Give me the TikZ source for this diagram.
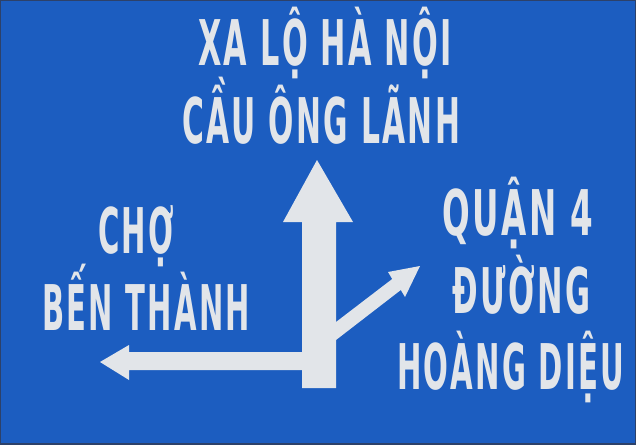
\documentclass[tikz,border=0pt]{standalone}
\usepackage{fontspec}
\usepackage{graphicx}
\newfontfamily\signfont[LetterSpace=8]{DejaVu Sans}
\definecolor{signblue}{RGB}{28,93,192}
\definecolor{signwhite}{RGB}{226,229,233}
\definecolor{signedge}{RGB}{45,65,105}
\newcommand{\signline}[2]{\resizebox{#1}{\height}{\signfont\bfseries\fontsize{63}{63}\selectfont #2}}
\tikzset{
  signtext/.style={anchor=base west, inner sep=0pt, text=signwhite},
  arrowshape/.style={fill=signwhite, draw=none}
}
\begin{document}
\begin{tikzpicture}[x=1pt,y=-1pt]
\useasboundingbox (0,0) rectangle (636,444);
\fill[signblue] (0,0) rectangle (636,444);
\draw[signedge, line width=1.2pt] (0,0) rectangle (636,444);
% arrows
\fill[arrowshape] (317,160) -- (353,222) -- (336,222) -- (336,388) -- (302,388) -- (302,370)
  -- (129,370) -- (129,380) -- (100,362) -- (129,345) -- (129,352) -- (302,352) -- (302,222)
  -- (283,222) -- cycle;
\fill[arrowshape] (336,322) -- (392.2,279) -- (388,272) -- (420,266) -- (405,297) -- (400.8,290) -- (336,340) -- cycle;
% texts
\node[signtext] (t1) at (198,65) {\signline{254pt}{XA LỘ HÀ NỘI}};
\node[signtext] (t2) at (182,143) {\signline{278pt}{CẦU ÔNG LÃNH}};
\node[signtext] (t3) at (98,253) {\signline{76pt}{CHỢ}};
\node[signtext] (t4) at (42,330) {\signline{208pt}{BẾN THÀNH}};
\node[signtext] (t5) at (442,235) {\signline{151pt}{QUẬN 4}};
\node[signtext] (t6) at (452,313) {\signline{138pt}{ĐƯỜNG}};
\node[signtext] (t7) at (397,389) {\signline{227pt}{HOÀNG DIỆU}};
\end{tikzpicture}
\end{document}
